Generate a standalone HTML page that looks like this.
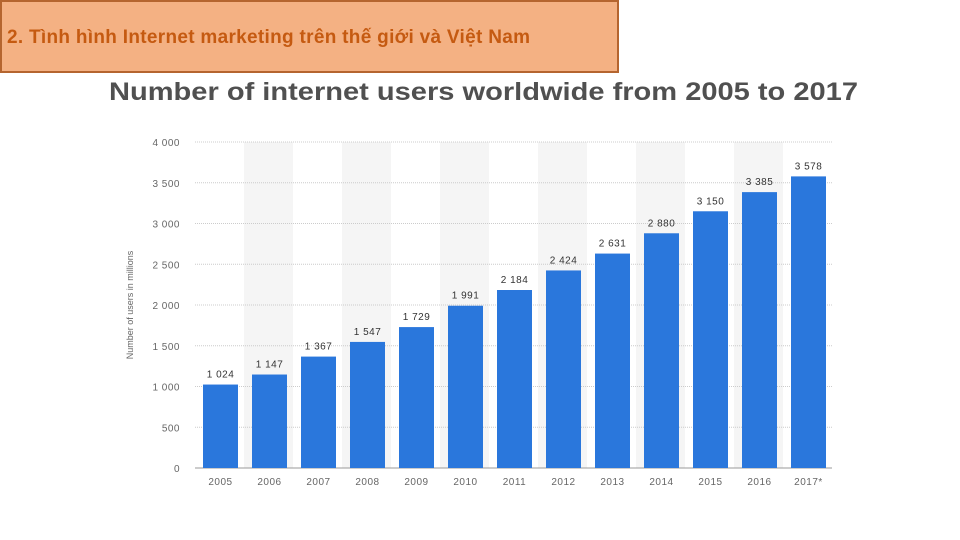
<!DOCTYPE html>
<html><head><meta charset="utf-8"><style>
body{margin:0;width:960px;height:540px;background:#fff;overflow:hidden;font-family:"Liberation Sans",sans-serif}
#hdr{position:absolute;left:0;top:0;width:615px;height:69px;background:#f4b183;border:2px solid #b5652f;}
#hdr span{position:absolute;left:5px;top:25px;font-size:19px;font-weight:bold;color:#c55a11;white-space:nowrap;letter-spacing:0.3px;font-family:"Liberation Sans","Noto Sans CJK SC",sans-serif}
</style></head><body>
<div id="hdr"><span>2. Tình hình Internet marketing trên thế giới và Việt Nam</span></div>
<svg id="c" width="960" height="540" style="position:absolute;left:0;top:0">
<text x="109" y="100" textLength="749" lengthAdjust="spacingAndGlyphs" font-size="25" font-weight="bold" fill="#505050">Number of internet users worldwide from 2005 to 2017</text>
<text transform="translate(133,305) rotate(-90)" text-anchor="middle" font-size="9" fill="#666">Number of users in millions</text>
</svg>
<script>
const categories=["2005","2006","2007","2008","2009","2010","2011","2012","2013","2014","2015","2016","2017*"];
const values=[1024,1147,1367,1547,1729,1991,2184,2424,2631,2880,3150,3385,3578];
const labels=["1 024","1 147","1 367","1 547","1 729","1 991","2 184","2 424","2 631","2 880","3 150","3 385","3 578"];
const ticks=[0,500,1000,1500,2000,2500,3000,3500,4000];
const tickLabels=["0","500","1 000","1 500","2 000","2 500","3 000","3 500","4 000"];
const svg=document.getElementById('c'),NS='http://www.w3.org/2000/svg';
const x0=195,slot=49,y0=468,yMax=4000,h=326;
const y=v=>y0-v/yMax*h;
const xs=i=>x0+i*slot;
function mk(t,a){const e=document.createElementNS(NS,t);for(const k in a)e.setAttribute(k,a[k]);svg.appendChild(e);return e;}
categories.forEach((c,i)=>{if(i%2==1){const r=mk('rect',{x:xs(i),y:y(yMax),width:slot,height:h,fill:'#f5f5f5'});

}});
ticks.forEach((t,i)=>{const l=mk('line',{x1:x0,x2:x0+slot*categories.length,y1:y(t),y2:y(t),stroke:t==0?'#999':'#ccc','stroke-dasharray':t==0?'':'1,1'});


const tx=mk('text',{x:180,y:y(t)+4,'text-anchor':'end','font-size':10,fill:'#666','letter-spacing':'0.5'});tx.textContent=tickLabels[i];

});
categories.forEach((c,i)=>{const bx=xs(i)+8,bw=35;
const r=mk('rect',{x:bx,y:y(values[i]),width:bw,height:y0-y(values[i]),fill:'#2a77dc'});


const v=mk('text',{x:bx+bw/2,y:y(values[i])-7,'text-anchor':'middle','font-size':10,fill:'#333','letter-spacing':'0.5'});v.textContent=labels[i];


const t=mk('text',{x:bx+bw/2,y:485,'text-anchor':'middle','font-size':10,fill:'#666','letter-spacing':'0.5'});t.textContent=c;

});
</script>
</body></html>
